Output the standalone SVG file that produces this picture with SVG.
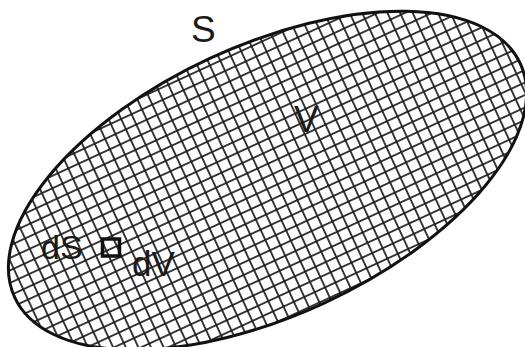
<svg xmlns="http://www.w3.org/2000/svg" width="525" height="347" viewBox="0 0 525 347">
  <style>
    .lbl { font-family: "Liberation Sans", Arial, sans-serif; fill: #1a1a1a; }
    .grid line { stroke: #1c1c1c; stroke-width: 1.7; }
    .outline { fill: none; stroke: #111; stroke-width: 3; }
  </style>
  <defs>
    <pattern id="mesh" patternUnits="userSpaceOnUse" x="104.775" y="240.325" width="11.45" height="11.35">
      <g class="grid">
        <line x1="5.725" y1="0" x2="5.725" y2="11.35"/>
        <line x1="0" y1="5.675" x2="11.45" y2="5.675"/>
      </g>
    </pattern>
  </defs>
  <rect width="525" height="347" fill="#ffffff"/>
  <g id="volume">
    <ellipse cx="0" cy="0" rx="278.5" ry="135" transform="translate(267.5 180.5) rotate(-24.8)" fill="#ffffff"/>
    <ellipse cx="0" cy="0" rx="278.5" ry="135" transform="translate(267.5 180.5) rotate(-24.8)" fill="url(#mesh)"/>
    <ellipse class="outline" cx="0" cy="0" rx="278.5" ry="135" transform="translate(267.5 180.5) rotate(-24.8)"/>
  </g>
  <g id="element">
    <rect x="102.5" y="239" width="17" height="17" fill="none" stroke="#111" stroke-width="3.5"/>
  </g>
  <g id="labels">
    <text class="lbl" x="191" y="42" font-size="37">S</text>
    <text class="lbl" x="294" y="132" font-size="37">V</text>
    <text class="lbl" x="41" y="259" font-size="34">dS</text>
    <text class="lbl" x="132" y="276" font-size="35">dV</text>
  </g>
</svg>
